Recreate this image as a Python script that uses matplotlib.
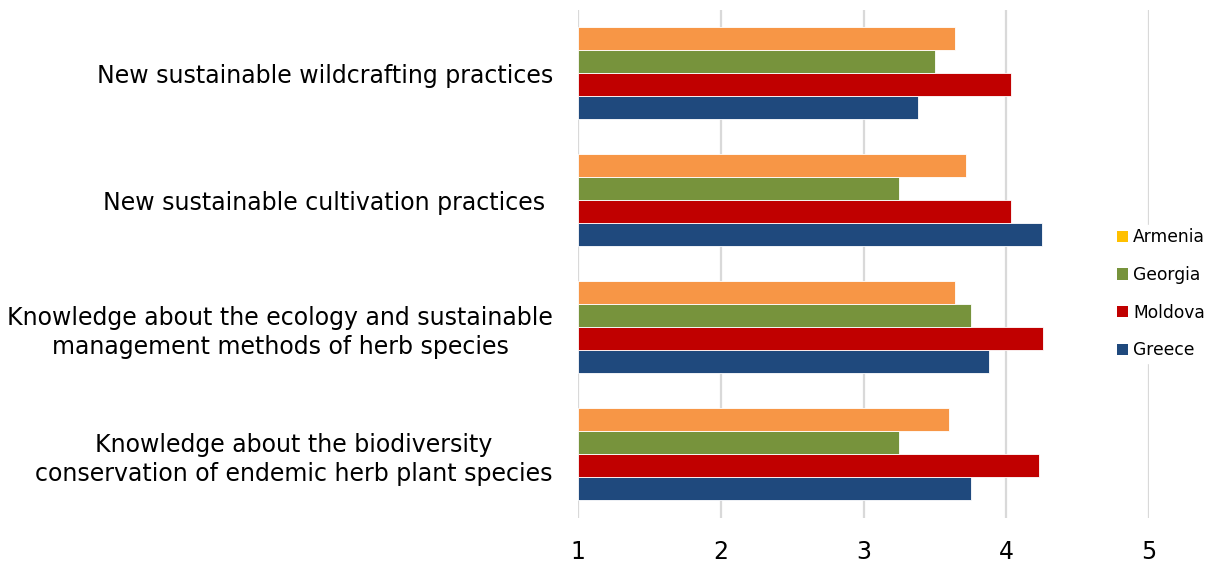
"""Horizontal grouped bar chart of knowledge needs per country."""
import matplotlib
matplotlib.use("Agg")
import matplotlib.pyplot as plt
from matplotlib.patches import Patch
import numpy as np

categories = [
    "Knowledge about the biodiversity\nconservation of endemic herb plant species",
    "Knowledge about the ecology and sustainable\nmanagement methods of herb species",
    "New sustainable cultivation practices ",
    "New sustainable wildcrafting practices",
]
# bottom to top, same order as categories
greece = [3.75, 3.88, 4.25, 3.38]
moldova = [4.23, 4.26, 4.03, 4.03]
georgia = [3.25, 3.75, 3.25, 3.50]
armenia = [3.60, 3.64, 3.72, 3.64]

series = [
    ("Greece", greece, "#1F497D"),
    ("Moldova", moldova, "#C00000"),
    ("Georgia", georgia, "#77933C"),
    ("Armenia", armenia, "#F79646"),
]
legend_colors = {"Armenia": "#FFC000", "Georgia": "#77933C",
                 "Moldova": "#C00000", "Greece": "#1F497D"}

fig = plt.figure(figsize=(12.09, 5.65), dpi=100)
ax = fig.add_axes([0.478, 0.084, 0.4725, 0.899])

y = np.arange(len(categories))
h = 0.18
for i, (name, vals, color) in enumerate(series):
    offs = (i - 1.5) * h
    ax.barh(y + offs, np.array(vals) - 1, left=1, height=h, color=color,
            edgecolor="white", linewidth=0.6, zorder=3)

ax.set_xlim(1, 5)
ax.set_ylim(-0.5, len(categories) - 0.5)
ax.set_xticks([1, 2, 3, 4, 5])
ax.set_yticks(y)
ax.set_yticklabels(categories, fontsize=17, multialignment="center",
                   linespacing=1.3)
ax.tick_params(axis="x", length=0, pad=16, labelsize=17)
ax.tick_params(axis="y", length=0, pad=18)
ax.xaxis.grid(True, color="#D9D9D9", linewidth=1.6, zorder=0)
for s in ax.spines.values():
    s.set_visible(False)

handles = [Patch(facecolor=legend_colors[n], edgecolor="none")
           for n in ["Armenia", "Georgia", "Moldova", "Greece"]]
fig.legend(handles, ["Armenia", "Georgia", "Moldova", "Greece"],
           loc="center left", bbox_to_anchor=(0.921, 0.48), frameon=True,
           framealpha=1, edgecolor="white", fontsize=12.3, handlelength=0.65,
           handleheight=0.65, handletextpad=0.3, labelspacing=1.15,
           borderpad=0.2, borderaxespad=0)

fig.savefig("out.png", dpi=100)
